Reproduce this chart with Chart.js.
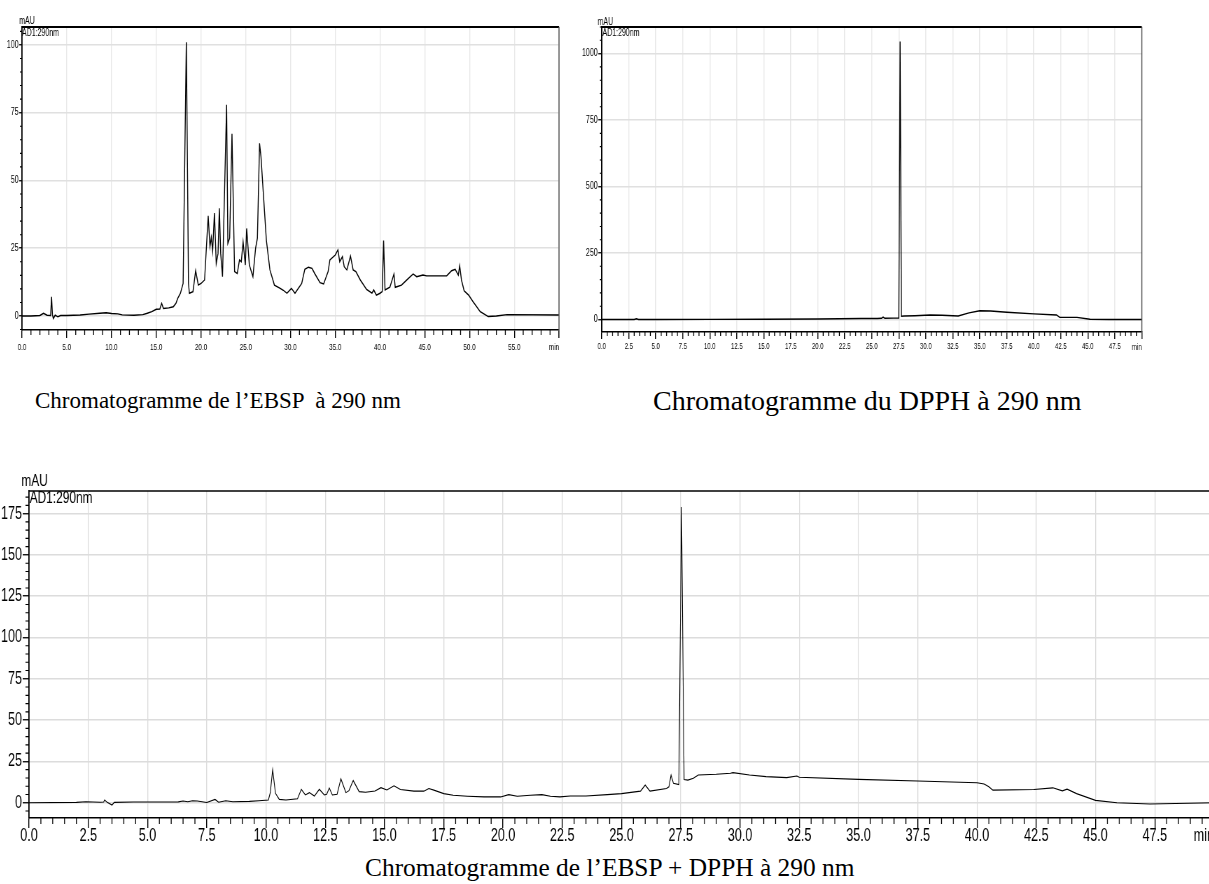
<!DOCTYPE html>
<html>
<head>
<meta charset="utf-8">
<script src="https://cdn.jsdelivr.net/npm/chart.js@4.4.1/dist/chart.umd.min.js"></script>
<style>
html,body{margin:0;padding:0;background:#fff;width:1209px;height:884px;overflow:hidden;position:relative}
.wrap{position:absolute;transform-origin:0 0}
.cap{position:absolute;font-family:"Liberation Serif","Times New Roman",serif;font-size:24px;line-height:1;color:#000;white-space:pre}
</style>
</head>
<body>
<div class="wrap" id="w1"></div>
<div class="wrap" id="w2"></div>
<div class="wrap" id="w3"></div>
<div class="cap" id="cap1" style="left:35px;top:389px;font-size:23px">Chromatogramme de l’EBSP  à 290 nm</div>
<div class="cap" id="cap2" style="left:653px;top:387px;font-size:28px">Chromatogramme du DPPH à 290 nm</div>
<div class="cap" id="cap3" style="left:365px;top:855px;font-size:25.4px">Chromatogramme de l’EBSP + DPPH à 290 nm</div>
<script>
// ---------- labels ----------
const unitLabel = 'mAU';
const channelLabel = 'AD1:290nm';
const timeUnit = 'min';

// ---------- EBSP chromatogram (top left) ----------
const ebspTime = [0,1,2,2.4,2.8,3.2,3.3,3.4,3.5,3.7,
  4,4.3,5,6.5,7.5,8.7,9.4,10,10.7,11.2,
  12.5,13.5,14,14.5,15,15.4,15.6,15.8,16.4,16.9,
  17.2,17.4,17.7,18,18.36,18.6,18.7,19.1,19.4,19.7,
  20,20.4,20.8,21,21.15,21.3,21.5,21.7,21.9,22.05,
  22.2,22.4,22.86,23,23.2,23.46,23.75,24.05,24.3,24.5,
  24.7,24.95,25.1,25.4,25.8,26.1,26.3,26.54,26.7,27.3,
  27.7,28.2,28.8,29.2,29.6,30.1,30.5,31.25,31.6,32,
  32.4,32.7,33.3,33.7,34.2,34.4,35,35.3,35.5,35.8,
  36,36.3,36.7,37,37.3,37.8,38.5,39.1,39.3,39.6,
  40,40.25,40.4,40.56,41.1,41.56,41.7,42.4,43,43.7,
  44.1,44.8,45.2,47.45,48,48.4,48.75,48.9,49.1,49.4,
  49.9,50.4,51.2,52.1,53,54.2,60];
const ebspMAU = [0,0,0.2,1,0.3,0.2,7.1,0.5,-0.9,0.3,
  -0.3,0.2,0.2,0.4,0.7,1.0,1.2,0.9,0.8,0.4,
  0.3,0.5,1,1.6,2.5,2.6,4.7,2.8,3,3.4,
  4.7,6.5,8.4,12,101,12,8.4,9,16.7,11.4,
  12,13.3,37,25.6,29,24,38,19.4,23,39.7,
  23,14.5,77.9,26.8,28.7,67.2,16.4,15.7,20.7,20,
  27.4,18.8,32.3,18.8,14.5,25,28.7,63.7,58.8,28,
  17,11.4,10.3,9.5,8.4,10.2,8.4,12,17.2,18,
  17.6,15.7,12.3,11.8,16.4,20.7,22.5,24.4,20,21.9,
  18.2,17,22.1,17,16.4,13.3,9.8,8.4,9.6,7.7,
  8.4,9,27.8,9.6,10.6,15.5,10.6,11.4,13.3,15.5,
  14.5,15.1,14.8,14.8,16.7,17.2,15.1,18.5,13.3,9.3,
  7.7,5.3,1.6,-0.2,0,0.5,0.4];
const ebspXTicks = [0,5,10,15,20,25,30,35,40,45,50,55,60];
const ebspYTicks = [0,25,50,75,100];

// ---------- DPPH chromatogram (top right) ----------
const dpphTime = [0,3.0,3.2,3.4,5,10,15,20,24,25.5,
  25.9,26.05,26.2,27.0,27.5,27.62,27.74,28,29,30.4,
  31.5,33,34,35,36,37.5,40,42.1,42.4,44,
  45.2,47,50];
const dpphMAU = [0,0,3,0,0,0.5,1,2,3.5,4,
  4.5,9,4.5,5,5,1045,12,13,14,17,
  16,13,25,33,32,27,21,17,8,8,
  1,0,0];
const dpphXTicks = [0,2.5,5,7.5,10,12.5,15,17.5,20,22.5,25,27.5,30,32.5,35,37.5,40,42.5,45,47.5,50];
const dpphYTicks = [0,250,500,750,1000];

// ---------- EBSP + DPPH chromatogram (bottom) ----------
const mixTime = [0,2,2.4,3,3.15,3.19,3.3,3.5,3.6,4.4,
  6.3,6.5,6.7,6.9,7.1,7.5,7.85,8,8.3,8.6,
  9.3,9.7,10.1,10.18,10.28,10.4,10.56,10.84,11.33,11.49,
  11.66,11.83,12.04,12.25,12.46,12.56,12.67,12.8,13,13.16,
  13.37,13.5,13.68,13.93,14.2,14.6,14.85,15.1,15.4,15.67,
  16.24,16.66,16.87,17.08,17.5,17.9,18.5,19.2,19.9,20.24,
  20.6,21.15,21.64,22,22.4,22.84,23.5,24.4,25,25.8,
  26,26.2,26.9,27,27.09,27.19,27.42,27.53,27.64,27.8,
  28.03,28.24,29,29.6,29.7,30.4,31.1,31.97,32.4,32.5,
  35,37.5,40,40.3,40.5,40.67,42.4,43.2,43.6,43.8,
  44.2,45,45.9,47.3,50];
const mixMAU = [0,0.2,0.6,0.3,0.4,1.6,0.2,-1.4,0.2,0.4,
  0.5,1,0.6,1.2,1,0.1,2,0.3,1.2,0.6,
  0.8,1.2,1.6,6,19.9,5.7,2,1.6,2.4,8.1,
  4.7,6.1,4,8.1,4.7,5.1,8.9,4.7,5.1,14.4,
  6.1,7.3,13.4,6.7,6.3,7.1,9.1,7.7,10.2,8,
  7,7,8.6,7.6,5.5,4.5,3.9,3.5,3.5,4.9,
  3.9,4.5,4.9,3.9,3.5,4.1,4.1,4.9,5.5,7,
  10.7,7,8.6,9.6,16.8,11.7,11,179,14,13.7,
  14.8,16.8,17.2,17.8,18.2,16.8,15.8,15.2,16.2,15.4,
  14.1,13.1,12.1,11.3,9.6,7.6,8,9,7.2,8.2,
  5.5,1.4,0,-0.8,0];
const mixXTicks = [0,2.5,5,7.5,10,12.5,15,17.5,20,22.5,25,27.5,30,32.5,35,37.5,40,42.5,45,47.5,50];
const mixYTicks = [0,25,50,75,100,125,150,175];

// ---------- rendering ----------
const K = 0.7; // horizontal compression of the original figure
const FAM = '"Liberation Sans", Arial, sans-serif';

const chromoPlugin = {
  id: 'chromo',
  afterDraw(chart, args, o) {
    const ctx = chart.ctx, a = chart.chartArea, xs = chart.scales.x, ys = chart.scales.y;
    const xMaj = xs.ticks.map(t => t.value), yMaj = ys.ticks.map(t => t.value);
    const isMaj = (arr, v) => arr.some(m => Math.abs(m - v) < 1e-6);
    ctx.save();
    ctx.strokeStyle = '#000';
    ctx.lineWidth = o.minorWX;
    ctx.beginPath();
    const nX = Math.round((xs.max - xs.min) / o.minorX);
    for (let i = 0; i <= nX; i++) {
      const v = xs.min + i * o.minorX;
      if (isMaj(xMaj, v)) continue;
      const px = xs.getPixelForValue(v);
      ctx.moveTo(px, a.bottom); ctx.lineTo(px, a.bottom + o.minorLenX);
    }
    ctx.stroke();
    ctx.lineWidth = o.minorWY;
    ctx.beginPath();
    const i0 = Math.ceil(ys.min / o.minorY - 1e-9), i1 = Math.floor(ys.max / o.minorY + 1e-9);
    for (let i = i0; i <= i1; i++) {
      const v = i * o.minorY;
      if (isMaj(yMaj, v)) continue;
      const py = ys.getPixelForValue(v);
      ctx.moveTo(a.left - o.minorLenY, py); ctx.lineTo(a.left, py);
    }
    ctx.stroke();
    // frame
    ctx.lineWidth = o.topW; ctx.strokeStyle = '#000';
    ctx.beginPath(); ctx.moveTo(a.left, a.top); ctx.lineTo(a.right, a.top); ctx.stroke();
    if (o.rightColor) {
      ctx.lineWidth = 1.5; ctx.strokeStyle = o.rightColor;
      ctx.beginPath(); ctx.moveTo(a.right, a.top); ctx.lineTo(a.right, a.bottom + o.xTickLen); ctx.stroke();
    }
    // texts
    ctx.fillStyle = '#000';
    ctx.font = o.unitFont + 'px ' + FAM;
    ctx.textAlign = 'left'; ctx.textBaseline = 'alphabetic';
    ctx.fillText(unitLabel, a.left + o.unitDx, a.top + o.unitDy);
    ctx.textBaseline = 'top';
    ctx.fillText(channelLabel, a.left + o.chDx, a.top + o.chDy);
    ctx.font = o.minFont + 'px ' + FAM;
    ctx.textAlign = 'right'; ctx.textBaseline = 'middle';
    ctx.fillText(timeUnit, xs.getPixelForValue(xs.max), a.bottom + o.minDy);
    ctx.restore();
  }
};

function makeChart(id, c) {
  const wrap = document.getElementById(id);
  const a = c.area;
  const innerW = (a.r - a.l) / K;
  const W = Math.ceil(c.yW + innerW + c.padR);
  const H = Math.round(c.padT + (a.b - a.t) + c.xH);
  const padR = W - c.yW - innerW;
  const canvas = document.createElement('canvas');
  canvas.width = W; canvas.height = H;
  wrap.appendChild(canvas);
  wrap.style.left = (a.l - K * c.yW) + 'px';
  wrap.style.top = (a.t - c.padT) + 'px';
  wrap.style.width = W + 'px';
  wrap.style.height = H + 'px';
  wrap.style.transform = 'scaleX(' + K + ')';
  const n = Math.min(c.time.length, c.values.length);
  const pts = [];
  for (let i = 0; i < n; i++) pts.push({ x: c.time[i], y: c.values[i] });
  return new Chart(canvas, {
    type: 'line',
    data: { datasets: [{ data: pts, borderColor: '#000', borderWidth: c.lw, pointRadius: 0, tension: 0, fill: false }] },
    options: {
      responsive: false, animation: false, devicePixelRatio: 1,
      layout: { padding: { left: 0, top: c.padT, right: padR, bottom: 0 } },
      plugins: {
        legend: { display: false }, tooltip: { enabled: false },
        chromo: c.plug
      },
      scales: {
        x: {
          type: 'linear', min: 0, max: c.xMax,
          afterFit: s => { s.height = c.xH; },
          afterBuildTicks: s => { s.ticks = c.xTicks.map(v => ({ value: v })); },
          ticks: {
            autoSkip: false, maxRotation: 0, minRotation: 0, color: '#000',
            font: { family: FAM, size: c.xFont, lineHeight: c.xLH }, padding: c.xPad,
            callback: v => (v >= c.xMax - 1e-9 ? '' : Number(v).toFixed(1))
          },
          grid: { color: c.gridX, lineWidth: 1.4, tickColor: '#000', tickWidth: 1.4, tickLength: c.xTick },
          border: { color: '#000', width: 1.5 }
        },
        y: {
          min: c.yMin, max: c.yMax,
          afterFit: s => { s.width = c.yW; },
          afterBuildTicks: s => { s.ticks = c.yTicks.map(v => ({ value: v })); },
          ticks: { color: '#000', font: { family: FAM, size: c.yFont }, padding: c.yPad, callback: v => String(v) },
          grid: { color: c.gridY, lineWidth: 1.5, tickColor: '#000', tickWidth: 1.3, tickLength: c.yTick },
          border: { color: '#000', width: 1.8 }
        }
      }
    },
    plugins: [chromoPlugin]
  });
}

makeChart('w1', {
  time: ebspTime, values: ebspMAU, xTicks: ebspXTicks, yTicks: ebspYTicks,
  area: { l: 22, t: 27, r: 559, b: 330 }, yW: 30, xH: 26, padT: 27, padR: 12,
  xMax: 60, yMin: -5.16, yMax: 106.6, lw: 1.4,
  xFont: 9, xLH: 1.2, xPad: 4, xTick: 8, yFont: 10, yPad: 1, yTick: 4,
  gridX: '#e8e8e8', gridY: '#e0e0e0',
  plug: { minorX: 1, minorY: 5, minorLenX: 5, minorLenY: 3, minorWX: 1.3, minorWY: 1.1, topW: 2, rightColor: '#555', xTickLen: 8,
          unitFont: 10, unitDx: -4, unitDy: -3, chDx: 0, chDy: 1, minFont: 9, minDy: 17.4 }
});

makeChart('w2', {
  time: dpphTime, values: dpphMAU, xTicks: dpphXTicks, yTicks: dpphYTicks,
  area: { l: 602, t: 27, r: 1142, b: 332 }, yW: 34, xH: 26, padT: 27, padR: 12,
  xMax: 50, yMin: -47, yMax: 1100, lw: 1.4,
  xFont: 8.5, xLH: 1.2, xPad: 3, xTick: 7, yFont: 10, yPad: 1, yTick: 5,
  gridX: '#e8e8e8', gridY: '#e0e0e0',
  plug: { minorX: 0.5, minorY: 50, minorLenX: 4, minorLenY: 3, minorWX: 1.3, minorWY: 1.1, topW: 2, rightColor: '#555', xTickLen: 7,
          unitFont: 10, unitDx: -6, unitDy: -2, chDx: 1, chDy: 1, minFont: 9, minDy: 15.1 }
});

makeChart('w3', {
  time: mixTime, values: mixMAU, xTicks: mixXTicks, yTicks: mixYTicks,
  area: { l: 29.3, t: 491, r: 1214.3, b: 818 }, yW: 40, xH: 30, padT: 31, padR: 30,
  xMax: 50, yMin: -9.26, yMax: 188.7, lw: 1.1,
  xFont: 18, xLH: 0.8, xPad: 1.3, xTick: 10, yFont: 18, yPad: 1, yTick: 9,
  gridX: '#dcdcdc', gridY: '#dcdcdc',
  plug: { minorX: 0.5, minorY: 5, minorLenX: 6, minorLenY: 5, minorWX: 1.3, minorWY: 1.1, topW: 1.5, rightColor: null, xTickLen: 10,
          unitFont: 17, unitDx: -11, unitDy: -5, chDx: 1, chDy: -1, minFont: 18, minDy: 18.5 }
});
</script>
</body>
</html>
